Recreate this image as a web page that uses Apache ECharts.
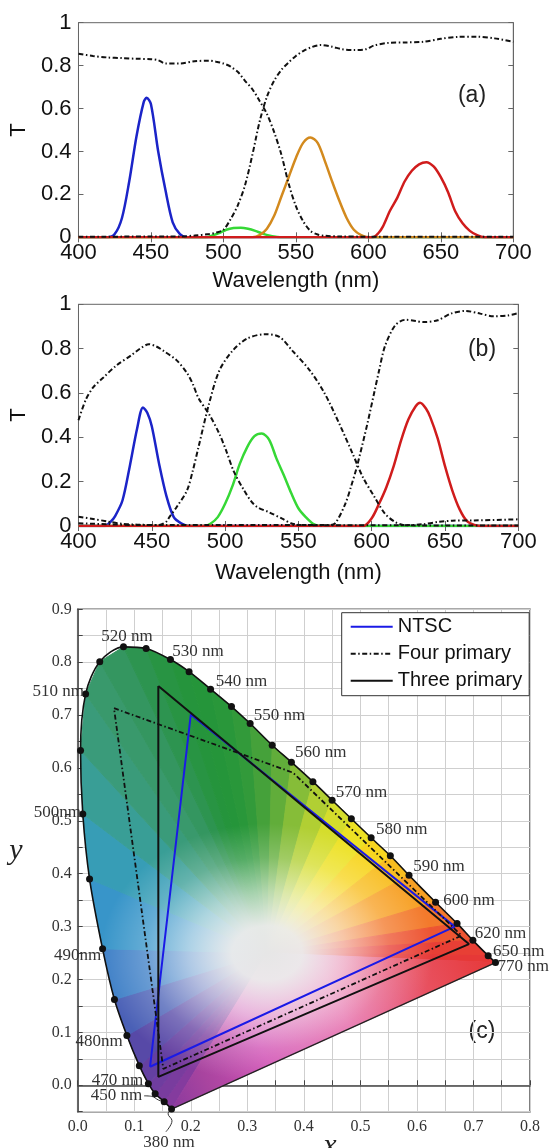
<!DOCTYPE html>
<html><head><meta charset="utf-8">
<script src="https://cdn.jsdelivr.net/npm/echarts@6/dist/echarts.min.js"></script>
<style>html,body{margin:0;padding:0;background:#fff}#c{width:553px;height:1148px}</style>
</head><body><div id="c"></div>
<script>
// ---------- Panel (a) data: [wavelength nm, T] ----------
const aBlue = [[400,0],[420,0],[425,0.015],[430,0.09],[435,0.26],[440,0.47],[445,0.63],[447,0.65],[450,0.62],[455,0.40],[460,0.22],[465,0.07],[470,0.015],[475,0],[700,0]];
const aGreen = [[400,0],[488,0],[492,0.008],[497,0.02],[502,0.035],[507,0.043],[512,0.045],[517,0.04],[522,0.03],[527,0.017],[532,0.007],[537,0.002],[540,0],[700,0]];
const aOrange = [[400,0],[520,0],[525,0.01],[530,0.04],[535,0.1],[540,0.19],[545,0.28],[550,0.37],[555,0.44],[560,0.465],[565,0.44],[570,0.355],[575,0.26],[580,0.17],[585,0.09],[590,0.035],[595,0.01],[600,0],[700,0]];
const aRed = [[400,0],[603,0],[607,0.02],[610,0.05],[615,0.125],[620,0.185],[625,0.26],[630,0.31],[635,0.34],[640,0.35],[645,0.33],[650,0.28],[655,0.21],[660,0.12],[665,0.065],[670,0.03],[675,0.01],[680,0],[700,0]];
const aFilt1 = [[400,0.855],[410,0.845],[420,0.838],[430,0.835],[440,0.832],[450,0.83],[455,0.825],[460,0.81],[470,0.81],[480,0.82],[490,0.823],[495,0.818],[500,0.81],[505,0.795],[510,0.77],[515,0.728],[520,0.69],[525,0.635],[530,0.575],[535,0.49],[540,0.385],[545,0.25],[550,0.145],[555,0.075],[560,0.03],[565,0.013],[570,0.007],[580,0.004],[600,0.003],[700,0.002]];
const aFilt2 = [[400,0.003],[470,0.004],[480,0.008],[490,0.015],[495,0.022],[500,0.035],[505,0.085],[510,0.15],[515,0.245],[520,0.385],[525,0.54],[530,0.655],[535,0.73],[540,0.78],[545,0.815],[550,0.845],[555,0.868],[560,0.884],[567,0.896],[575,0.888],[582,0.876],[590,0.873],[598,0.876],[604,0.894],[614,0.906],[625,0.908],[638,0.911],[650,0.925],[662,0.934],[675,0.935],[687,0.927],[700,0.911]];

// ---------- Panel (b) data ----------
const bBlue = [[400,0],[418,0],[422,0.02],[425,0.045],[430,0.115],[435,0.27],[440,0.44],[444,0.535],[447,0.51],[450,0.45],[455,0.28],[460,0.135],[465,0.04],[470,0.012],[475,0],[700,0]];
const bGreen = [[400,0],[486,0],[490,0.01],[495,0.04],[500,0.1],[505,0.18],[510,0.28],[515,0.355],[520,0.405],[525,0.417],[530,0.39],[535,0.305],[540,0.23],[545,0.15],[550,0.08],[555,0.04],[560,0.01],[565,0],[700,0]];
const bRed = [[400,0],[594,0],[600,0.035],[605,0.1],[610,0.175],[615,0.27],[620,0.385],[625,0.48],[630,0.54],[633,0.556],[637,0.53],[640,0.49],[645,0.395],[650,0.27],[655,0.16],[660,0.075],[665,0.022],[670,0.005],[675,0],[700,0]];
const bFiltB = [[400,0.477],[405,0.57],[410,0.625],[417,0.67],[426,0.725],[436,0.77],[442,0.8],[448,0.82],[453,0.81],[458,0.79],[467,0.747],[474,0.69],[478,0.64],[482,0.575],[489,0.505],[496,0.417],[501,0.335],[506,0.245],[513,0.16],[518,0.11],[522,0.085],[530,0.062],[539,0.033],[546,0.01],[555,0.004],[620,0.003],[635,0.008],[645,0.018],[655,0.024],[670,0.025],[700,0.03]];
const bFiltG = [[400,0.012],[420,0.008],[440,0.004],[455,0.005],[460,0.02],[462,0.04],[467,0.086],[474,0.16],[478,0.25],[482,0.36],[489,0.55],[496,0.7],[505,0.79],[515,0.845],[527,0.865],[537,0.853],[546,0.79],[558,0.7],[568,0.597],[578,0.46],[587,0.326],[594,0.22],[602,0.13],[609,0.056],[616,0.018],[623,0.003],[700,0.002]];
const bFiltR = [[400,0.042],[410,0.032],[420,0.02],[430,0.01],[440,0.006],[460,0.004],[570,0.004],[575,0.012],[582,0.1],[586,0.18],[590,0.27],[597,0.46],[602,0.61],[605,0.7],[609,0.81],[616,0.905],[623,0.93],[630,0.925],[635,0.92],[645,0.928],[654,0.958],[664,0.97],[674,0.958],[683,0.946],[693,0.95],[700,0.96]];

// ---------- Panel (c) data: CIE chromaticity [x, y] ----------
const cLocus = [[0.166,-0.045],[0.153,-0.031],[0.137,-0.016],[0.125,0.003],[0.109,0.037],[0.087,0.094],[0.065,0.162],[0.044,0.258],[0.021,0.390],[0.009,0.513],[0.005,0.633],[0.014,0.740],[0.039,0.801],[0.081,0.829],[0.121,0.826],[0.164,0.805],[0.197,0.782],[0.235,0.749],[0.272,0.716],[0.305,0.684],[0.344,0.643],[0.378,0.611],[0.416,0.574],[0.450,0.539],[0.484,0.504],[0.519,0.468],[0.553,0.434],[0.586,0.397],[0.633,0.346],[0.671,0.306],[0.699,0.274],[0.726,0.245],[0.739,0.232]];
const cNTSC = [[0.128,0.035],[0.200,0.701],[0.667,0.300],[0.128,0.035]];
const cFour = [[0.0642,0.713],[0.381,0.591],[0.679,0.283],[0.1514,0.031],[0.0642,0.713]];
const cThree = [[0.1426,0.755],[0.692,0.267],[0.1426,0.016],[0.1426,0.755]];
const cWhite = [0.335, 0.25];
const cLabelText = ['520 nm','530 nm','540 nm','550 nm','560 nm','570 nm','580 nm','590 nm','600 nm','620 nm','650 nm','770 nm','510 nm','500nm','490nm','480nm','470 nm','450 nm','380 nm'];
const cLabelPos = [[0.0872,0.849],[0.2128,0.821],[0.2897,0.763],[0.357,0.699],[0.430,0.630],[0.502,0.554],[0.573,0.483],[0.639,0.414],[0.692,0.350],[0.748,0.287],[0.780,0.252],[0.788,0.225],[-0.0345,0.745],[-0.036,0.515],[0.0,0.245],[0.0377,0.082],[0.0704,0.0085],[0.0686,-0.020],[0.1615,-0.108]];
const cLeader450 = [[0.1175,-0.020],[0.131,-0.021],[0.143,-0.028],[0.153,-0.031]];
const cLeader380 = [[0.156,-0.088],[0.1668,-0.067],[0.1598,-0.054],[0.166,-0.045]];

// ---------- style helpers ----------
const locusColors = ['#8a3a9e','#7e3b9e','#743c9e','#6a3e9f','#5e42a2','#5050ac','#4470c0','#3a90ce','#369ac4','#38a0a8','#3a9c84','#3a9a70','#389868','#2f9458','#2a9448','#26933e','#23943a','#26963a','#2c983a','#389c3a','#52a63a','#70b43a','#9cc636','#c6d830','#e4e228','#f6e020','#f8ca1e','#f8b020','#f69028','#f06430','#ea4634','#e63836','#e63838'];
const hexA = c => [parseInt(c.slice(1,3),16),parseInt(c.slice(3,5),16),parseInt(c.slice(5,7),16)];
const mixA = (A,B,t) => A.map((v,k)=>Math.round(v+(B[k]-v)*t));
const str = A => 'rgb('+A.join(',')+')';

const dashDot = [5,2.5,1.5,2.5];
const SANS = 'Liberation Sans';
const SERIF = 'Liberation Serif';
const fmtT = v => String(Math.round(v*10)/10);
const fmtC = v => { const r = Math.round(v*10); return Math.abs(v*10 - r) < 1e-6 && r >= 0 ? (r/10).toFixed(1) : ''; };

function specX(grid, name, gap, pos){
  return {
    gridIndex: grid, type:'value', min:400, max:700, interval:50, position: pos,
    axisLine:{show:true, lineStyle:{color:'#666', width:1}},
    axisTick:{show:true, inside:true, length:5, lineStyle:{color:'#666'}},
    axisLabel: pos==='bottom' ? {show:true, fontSize:22, fontFamily:SANS, color:'#111', margin:5} : {show:false},
    splitLine:{show:false},
    name: pos==='bottom' ? name : '', nameLocation:'middle', nameGap:gap,
    nameTextStyle:{fontSize:22, fontFamily:SANS, color:'#111'}
  };
}
function specY(grid, pos){
  return {
    gridIndex: grid, type:'value', min:0, max:1, interval:0.2, position: pos,
    axisLine:{show:true, lineStyle:{color:'#666', width:1}},
    axisTick:{show:true, inside:true, length:5, lineStyle:{color:'#666'}},
    axisLabel: pos==='left' ? {show:true, fontSize:22, fontFamily:SANS, color:'#111', margin:7, formatter:fmtT} : {show:false},
    splitLine:{show:false},
    name: pos==='left' ? 'T' : '', nameLocation:'middle', nameGap:47,
    nameTextStyle:{fontSize:22, fontFamily:SANS, color:'#111'}
  };
}
function curve(data, color, xi, yi, dashed){
  return {
    type:'line', data, xAxisIndex:xi, yAxisIndex:yi, symbol:'none', smooth:0.3,
    lineStyle: dashed ? {color:'#111', width:2, type:dashDot} : {color, width:2.5},
    z: dashed ? 4 : 3, silent:true
  };
}

const chart = echarts.init(document.getElementById('c'), null, {renderer:'canvas'});

const nFan = cLocus.length - 1;
const ELL = 0.78; // vertical squash of the whitening ellipse
const option = {
  animation:false,
  backgroundColor:'#fff',
  grid:[
    {left:77.7, top:22.7, width:435.6, height:214.6, show:true, borderColor:'#666', borderWidth:1, backgroundColor:'transparent', containLabel:false},
    {left:78, top:304.3, width:440.3, height:221.7, show:true, borderColor:'#666', borderWidth:1, backgroundColor:'transparent', containLabel:false},
    {left:77.7, top:609.3, width:452.3, height:502.4, show:true, borderColor:'#555', borderWidth:1.5, backgroundColor:'transparent', containLabel:false}
  ],
  xAxis:[
    specX(0,'Wavelength (nm)',33,'bottom'),
    specX(0,'',0,'top'),
    specX(1,'Wavelength (nm)',36,'bottom'),
    specX(1,'',0,'top'),
    {gridIndex:2, type:'value', min:0, max:0.8, interval:0.05, position:'bottom',
     axisLine:{show:true, lineStyle:{color:'#444', width:1.5}},
     axisTick:{show:true, inside:true, length:5, lineStyle:{color:'#444'}},
     axisLabel:{show:true, fontSize:16, fontFamily:SERIF, color:'#333', margin:7, formatter:fmtC},
     splitLine:{show:true, lineStyle:{color:'#cfcfcf', width:1}}}
  ],
  yAxis:[
    specY(0,'left'), specY(0,'right'), specY(1,'left'), specY(1,'right'),
    {gridIndex:2, type:'value', min:-0.05, max:0.9, interval:0.05, position:'left',
     axisLine:{show:true, lineStyle:{color:'#444', width:1.5}},
     axisTick:{show:true, inside:true, length:5, lineStyle:{color:'#444'}},
     axisLabel:{show:true, fontSize:16, fontFamily:SERIF, color:'#333', margin:6, formatter:fmtC},
     splitLine:{show:true, lineStyle:{color:'#cfcfcf', width:1}}}
  ],
  legend:{
    data:['NTSC','Four primary','Three primary'],
    orient:'vertical', left:341.7, top:612.7, padding:[3,7,4,8], itemGap:5,
    itemWidth:42, itemHeight:14, selectedMode:false,
    itemStyle:{opacity:0, color:'rgba(0,0,0,0)', borderWidth:0},
    borderColor:'#333', borderWidth:1, backgroundColor:'#fff',
    textStyle:{fontSize:20, fontFamily:SANS, color:'#111', lineHeight:22}
  },
  graphic:[
    {type:'text', x:472, y:96, style:{text:'(a)', font:'23px "Liberation Sans"', fill:'#222', align:'center', verticalAlign:'middle'}},
    {type:'text', x:482, y:350, style:{text:'(b)', font:'23px "Liberation Sans"', fill:'#222', align:'center', verticalAlign:'middle'}},
    {type:'text', x:482, y:1032, style:{text:'(c)', font:'23px "Liberation Sans"', fill:'#222', align:'center', verticalAlign:'middle'}},
    {type:'text', x:16, y:851, style:{text:'y', font:'italic 30px "Liberation Serif"', fill:'#222', align:'center', verticalAlign:'middle'}},
    {type:'text', x:330, y:1146, style:{text:'x', font:'italic 30px "Liberation Serif"', fill:'#222', align:'center', verticalAlign:'middle'}}
  ],
  series:[
    // (a)
    curve(aBlue,'#1b24c8',0,0), curve(aGreen,'#36d836',0,0), curve(aOrange,'#d38a1e',0,0), curve(aRed,'#d01c1c',0,0),
    curve(aFilt1,'#111',0,0,true), curve(aFilt2,'#111',0,0,true),
    // (b)
    curve(bBlue,'#1b24c8',2,2), curve(bGreen,'#36d836',2,2), curve(bRed,'#d01c1c',2,2),
    curve(bFiltB,'#111',2,2,true), curve(bFiltG,'#111',2,2,true), curve(bFiltR,'#111',2,2,true),
    // (c) hue fan of triangles from the white point
    {type:'custom', xAxisIndex:4, yAxisIndex:4, silent:true, z:1,
     data: cLocus.slice(0, nFan),
     renderItem:(params, api) => {
       const i = params.dataIndex;
       const W = api.coord(cWhite), A = api.coord(cLocus[i]), B = api.coord(cLocus[i+1]);
       const c = str(mixA(hexA(locusColors[i]), hexA(locusColors[i+1]), 0.5));
       return {type:'polygon', shape:{points:[W,A,B]}, style:{fill:c, stroke:c, lineWidth:1}};
     }},
    // (c) purple-line region
    {type:'custom', xAxisIndex:4, yAxisIndex:4, silent:true, z:1,
     data:[cWhite],
     renderItem:(params, api) => {
       const W = api.coord(cWhite), R = api.coord(cLocus[nFan]), V = api.coord(cLocus[0]);
       const hue = {type:'linear', x:R[0], y:R[1], x2:V[0], y2:V[1], global:true, colorStops:[
         {offset:0,color:'#e63838'},{offset:0.2,color:'#e8505e'},{offset:0.45,color:'#e462a4'},{offset:0.7,color:'#d050b4'},{offset:0.88,color:'#a8449f'},{offset:1,color:'#8a3a9e'}]};
       return {type:'polygon', shape:{points:[W,R,V]}, style:{fill:hue, stroke:hue, lineWidth:1}};
     }},
    // (c) whitening overlay (elliptical) around the white point
    {type:'custom', xAxisIndex:4, yAxisIndex:4, silent:true, z:2,
     data:[cWhite],
     renderItem:(params, api) => {
       const W = api.coord(cWhite);
       const pts = cLocus.map(p => { const q = api.coord(p); return [q[0], W[1] + (q[1]-W[1])/ELL]; });
       const g = {type:'radial', x:W[0], y:W[1], r:175, global:true, colorStops:[
         {offset:0,color:'rgba(230,230,230,1)'},{offset:0.2,color:'rgba(236,236,236,0.97)'},
         {offset:0.45,color:'rgba(250,250,250,0.6)'},{offset:0.7,color:'rgba(255,255,255,0.22)'},
         {offset:0.95,color:'rgba(255,255,255,0)'},{offset:1,color:'rgba(255,255,255,0)'}]};
       return {type:'polygon', originX:W[0], originY:W[1], scaleY:ELL, shape:{points:pts}, style:{fill:g}};
     }},
    // gamut triangles
    {name:'NTSC', type:'line', data:cNTSC, xAxisIndex:4, yAxisIndex:4, symbol:'none', z:5, silent:true,
     lineStyle:{color:'#1a1ae6', width:2}, itemStyle:{color:'#1a1ae6'}},
    {name:'Four primary', type:'line', data:cFour, xAxisIndex:4, yAxisIndex:4, symbol:'none', z:5, silent:true,
     lineStyle:{color:'#111', width:1.8, type:dashDot}, itemStyle:{color:'#111'}},
    {name:'Three primary', type:'line', data:cThree, xAxisIndex:4, yAxisIndex:4, symbol:'none', z:5, silent:true,
     lineStyle:{color:'#111', width:2}, itemStyle:{color:'#111'}},
    // spectral locus and purple line
    {type:'line', data:cLocus, xAxisIndex:4, yAxisIndex:4, smooth:0.3, symbol:'circle', symbolSize:7, z:6, silent:true,
     lineStyle:{color:'#111', width:1.6}, itemStyle:{color:'#111'}},
    {type:'line', data:[cLocus[nFan], cLocus[0]], xAxisIndex:4, yAxisIndex:4, symbol:'none', z:6, silent:true,
     lineStyle:{color:'#222', width:1.4}},
    // leader lines
    {type:'line', data:cLeader450, xAxisIndex:4, yAxisIndex:4, symbol:'none', smooth:0.4, clip:false, z:6, silent:true,
     lineStyle:{color:'#333', width:1}},
    {type:'line', data:cLeader380, xAxisIndex:4, yAxisIndex:4, symbol:'none', smooth:0.4, clip:false, z:6, silent:true,
     lineStyle:{color:'#333', width:1}},
    // wavelength labels
    {type:'custom', xAxisIndex:4, yAxisIndex:4, silent:true, z:7, clip:false,
     data:cLabelPos,
     renderItem:(params, api) => {
       const p = api.coord(cLabelPos[params.dataIndex]);
       return {type:'text', x:p[0], y:p[1], style:{text:cLabelText[params.dataIndex], font:'17px "Liberation Serif"', fill:'#333', align:'center', verticalAlign:'middle'}};
     }}
  ]
};
chart.setOption(option);
</script>
</body></html>
